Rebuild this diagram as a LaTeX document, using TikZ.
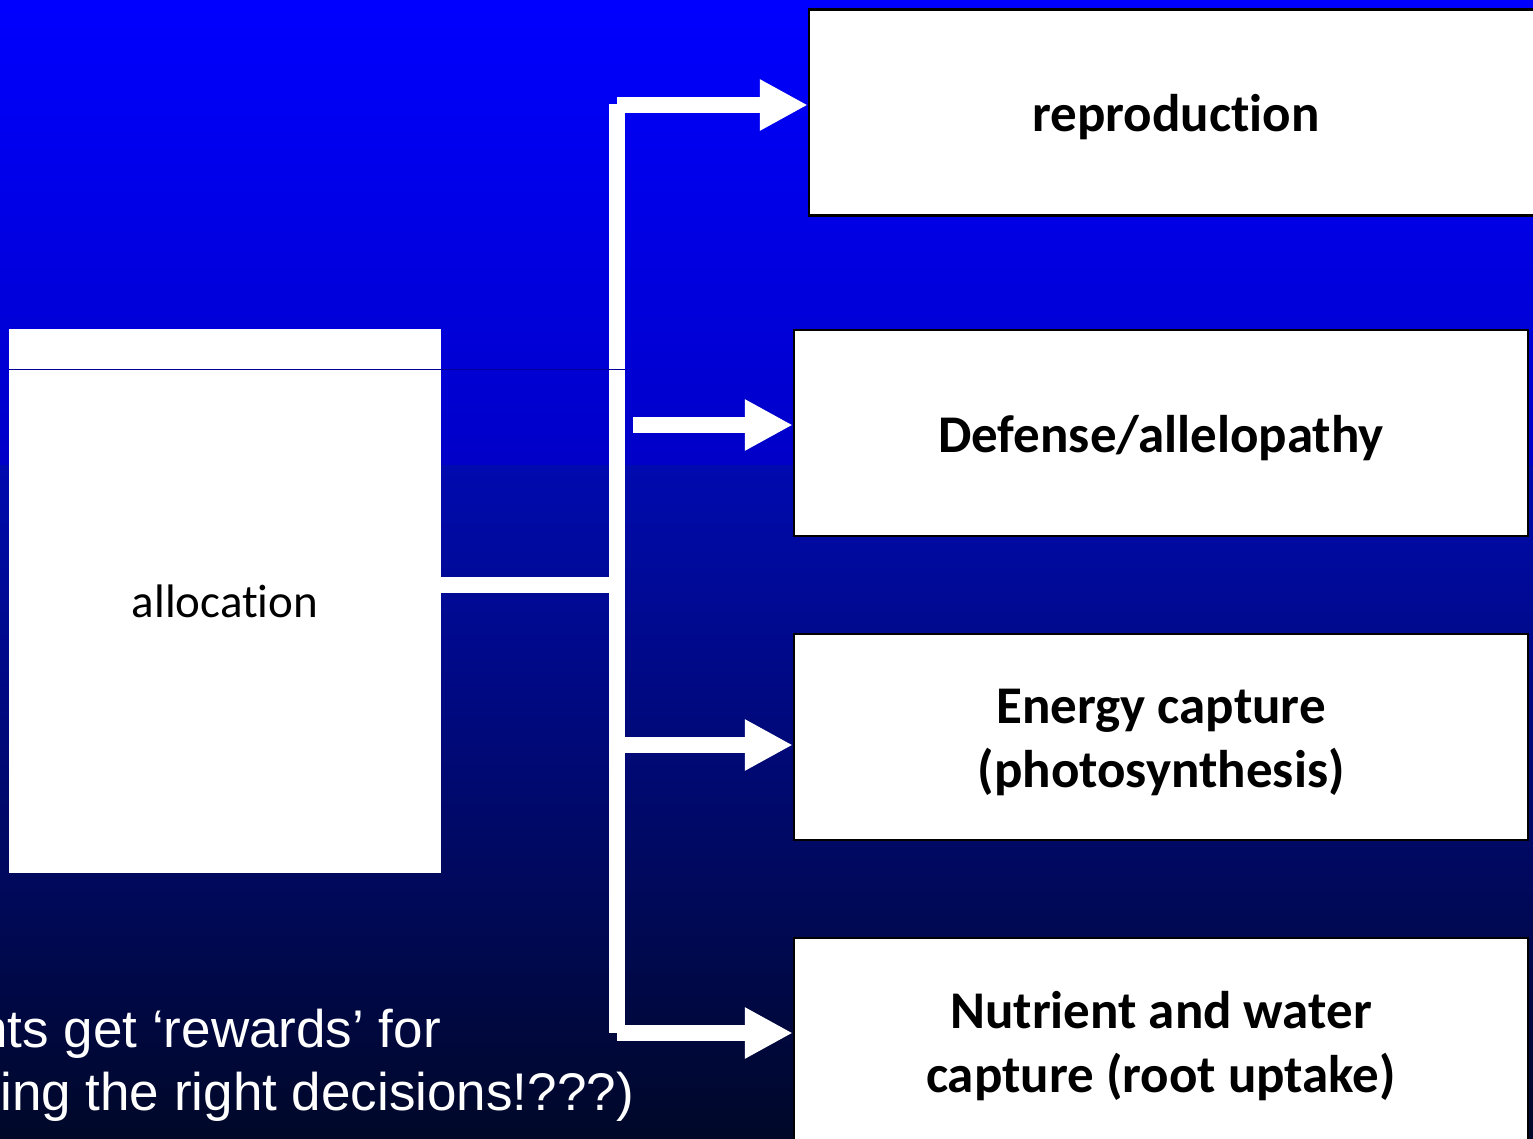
\documentclass[tikz,border=0pt]{standalone}
\usepackage{fontspec}
\setmainfont{Carlito}[Ligatures=NoCommon]
\newfontfamily\arialf{Liberation Sans}
\usetikzlibrary{arrows.meta}
\definecolor{bgA}{RGB}{0,0,255}
\definecolor{bgB}{RGB}{0,0,200}
\definecolor{bgC}{RGB}{0,10,175}
\definecolor{bgD}{RGB}{0,8,40}
\definecolor{seam}{RGB}{0,0,150}
\tikzset{
  outbox/.style={draw=black, line width=2.5pt, fill=white, minimum width=734pt, minimum height=206pt, inner sep=0pt},
  outtext/.style={inner sep=0pt, align=center, font=\fontsize{53}{64}\selectfont\bfseries},
  conn/.style={draw=white, line width=16pt, line cap=butt, line join=miter},
  tip/.style={-{Triangle[length=48pt,width=48pt]}},
  note/.style={text=white, inner sep=0pt, font=\arialf\fontsize{53}{63}\selectfont}
}
\begin{document}
\begin{tikzpicture}[x=1pt,y=-1pt]
\useasboundingbox (0,0) rectangle (1533,1139);
\begin{scope}
\clip (0,0) rectangle (1533,1139);
% background
\shade[top color=bgA, bottom color=bgB] (0,0) rectangle (1533,465);
\shade[top color=bgC, bottom color=bgD] (0,465) rectangle (1533,1139);
% allocation box
\node[fill=white, minimum width=432pt, minimum height=544pt, inner sep=0pt, font=\fontsize{47}{56}\selectfont] (alloc) at (225,601) {allocation};
% outcome boxes
\node[outbox] (repro) at (1176,112.5) {};
\node[outbox] (defense) at (1161,433) {};
\node[outbox] (energy) at (1161,737) {};
\node[outbox] (nutr) at (1161,1041) {};
\node[outtext] (reproT) at ([yshift=-5pt]repro.center) {reproduction};
\node[outtext] (defenseT) at ([yshift=-5pt]defense.center) {Defense/allelopathy};
\node[outtext] (energyT) at ([yshift=-5pt]energy.center) {Energy capture\\(photosynthesis)};
\node[outtext] (nutrT) at ([yshift=-5pt]nutr.center) {Nutrient and water\\capture (root uptake)};
% connectors
\coordinate (j) at (617,585);
\coordinate (bustop) at (617,104);
\coordinate (busbot) at (617,1033);
\coordinate (t1) at (617,105);
\coordinate (t2) at (633,425);
\coordinate (t3) at (625,745);
\coordinate (t4) at (617,1033);
\draw[conn] (alloc.east |- j) -- (j);
\draw[conn] (bustop) -- (busbot);
\draw[seam, line width=1pt] (alloc.west |- 0,369) -- (625,369);
\draw[conn, tip] (t1) -- (repro.west |- t1);
\draw[conn, tip] (t2) -- (defense.west |- t2);
\draw[conn, tip] (t3) -- (energy.west |- t3);
\draw[conn, tip] (t4) -- (nutr.west |- t4);
% note text (cut at the left edge)
\node[note, anchor=base east] (n1) at (441,1047) {nts get ‘rewards’ for};
\node[note, anchor=base east] (n2) at (634,1110) {ing the right decisions!???)};
\end{scope}
\end{tikzpicture}
\end{document}
